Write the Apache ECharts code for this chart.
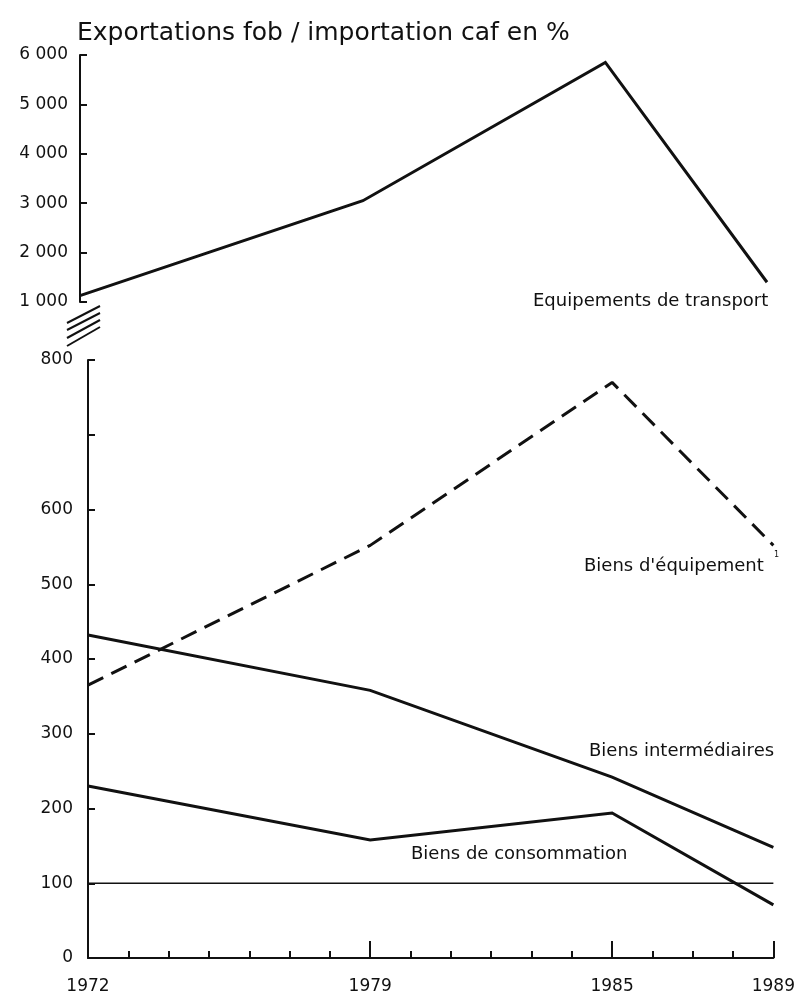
<!DOCTYPE html>
<html><head><meta charset="utf-8">
<script src="https://cdn.jsdelivr.net/npm/echarts@6/dist/echarts.min.js"></script>
<style>html,body{margin:0;padding:0;background:#fff}#c{width:798px;height:999px}</style>
</head><body><div id="c"></div>
<script>
// ---- data ----
const years = [1972, 1979, 1985, 1989];
const transport = [1130, 3050, 5850, 1400];        // Equipements de transport (top panel)
const equipement = [365, 552, 770, 552];           // Biens d'équipement (dashed)
const intermediaires = [432, 358, 242, 148];       // Biens intermédiaires
const consommation = [230, 158, 194, 71];          // Biens de consommation
const refYears = [1972, 1989];
const reference = [100, 100];                      // 100 % line
const majorYears = [1979, 1985, 1989];
const labelYears = [1972, 1979, 1985, 1989];
const topTicks = [1000, 2000, 3000, 4000, 5000, 6000];
const bottomTicks = [0, 100, 200, 300, 400, 500, 600, 700, 800];
const bottomLabels = [0, 100, 200, 300, 400, 500, 600, 800];

const pair = (xs, ys) => xs.map((x, i) => [x, ys[i]]);
const FONT = 'DejaVu Sans';
const INK = '#111';
const fmtThousands = v => String(v).replace(/\B(?=(\d{3})+(?!\d))/g, ' ');

const chart = echarts.init(document.getElementById('c'), null, {renderer: 'canvas'});
const lineSeries = (name, data, xi, yi, extra) => Object.assign({
  name, type: 'line', data, xAxisIndex: xi, yAxisIndex: yi,
  symbol: 'none', silent: true, animation: false,
  lineStyle: {color: INK, width: 3, join: 'miter'}
}, extra || {});

const breakLines = [[67,323,100,306],[67,330,100,313],[67,338,100,320],[67,346,100,327]].map(p => ({
  type: 'line', shape: {x1: p[0], y1: p[1], x2: p[2], y2: p[3]},
  style: {stroke: INK, lineWidth: 2}
}));
const txt = (text, x, y, size) => ({
  type: 'text', left: x, top: y,
  style: {text, font: `${size}px "${FONT}"`, fill: INK}
});

chart.setOption({
  backgroundColor: '#fff',
  animation: false,
  title: {
    text: 'Exportations fob / importation caf en %',
    left: 72, top: 16,
    textStyle: {fontFamily: FONT, fontSize: 25, fontWeight: 'normal', color: INK}
  },
  grid: [
    {left: 80, right: 31, top: 55, height: 247},
    {left: 88, right: 20, top: 360, height: 598}
  ],
  xAxis: [
    {gridIndex: 0, type: 'value', min: 1972, max: 1989, show: false},
    {gridIndex: 1, type: 'value', min: 1972, max: 1989, interval: 1,
      axisLine: {show: true, lineStyle: {color: INK, width: 2}},
      axisTick: {show: true, inside: true, length: 7, lineStyle: {color: INK, width: 2}},
      axisLabel: {show: true, customValues: labelYears, margin: 20,
        fontFamily: FONT, fontSize: 17, color: INK, formatter: v => String(v)},
      splitLine: {show: false}},
    {gridIndex: 1, type: 'value', min: 1972, max: 1989, position: 'bottom',
      axisLine: {show: false},
      axisTick: {show: true, inside: true, length: 17, customValues: majorYears,
        lineStyle: {color: INK, width: 2}},
      axisLabel: {show: false}, splitLine: {show: false}}
  ],
  yAxis: [
    {gridIndex: 0, type: 'value', min: 1000, max: 6000, interval: 1000,
      axisLine: {show: true, lineStyle: {color: INK, width: 2}},
      axisTick: {show: true, inside: true, length: 7, lineStyle: {color: INK, width: 2}},
      axisLabel: {margin: 12, fontFamily: FONT, fontSize: 17, color: INK, formatter: fmtThousands},
      splitLine: {show: false}},
    {gridIndex: 1, type: 'value', min: 0, max: 800, interval: 100,
      axisLine: {show: true, lineStyle: {color: INK, width: 2}},
      axisTick: {show: true, inside: true, length: 7, lineStyle: {color: INK, width: 2}},
      axisLabel: {margin: 15, fontFamily: FONT, fontSize: 17, color: INK,
        formatter: v => bottomLabels.includes(v) ? String(v) : ''},
      splitLine: {show: false}}
  ],
  series: [
    lineSeries('Equipements de transport', pair(years, transport), 0, 0),
    lineSeries("Biens d'équipement", pair(years, equipement), 1, 1,
      {lineStyle: {color: INK, width: 3, type: [17, 9]}}),
    lineSeries('Biens intermédiaires', pair(years, intermediaires), 1, 1),
    lineSeries('Biens de consommation', pair(years, consommation), 1, 1),
    lineSeries('100', pair(refYears, reference), 1, 1, {lineStyle: {color: INK, width: 1.6}})
  ],
  graphic: [
    ...breakLines,
    txt('Equipements de transport', 533, 292, 18),
    txt("Biens d'équipement", 584, 557, 18),
    txt('1', 774, 551, 8),
    txt('Biens intermédiaires', 589, 742, 18),
    txt('Biens de consommation', 411, 845, 18)
  ]
});
</script>
</body></html>
